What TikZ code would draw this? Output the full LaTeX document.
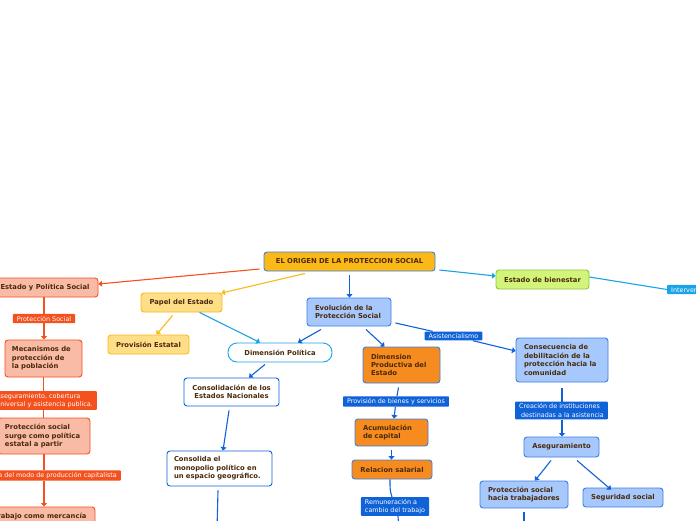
\documentclass[tikz,border=0pt]{standalone}
\usepackage{fontspec}
\setmainfont{DejaVu Sans}
\usetikzlibrary{arrows.meta,calc}
\definecolor{txt}{HTML}{4A2A0A}
\definecolor{red1}{HTML}{F4511E}
\definecolor{salmon}{HTML}{F9BBA6}
\definecolor{yel}{HTML}{FBB917}
\definecolor{yelfill}{HTML}{FFDE88}
\definecolor{rootfill}{HTML}{FBB917}
\definecolor{bord}{HTML}{3D7FE0}
\definecolor{lblue}{HTML}{A7C8FD}
\definecolor{dblue}{HTML}{0F62D8}
\definecolor{cyan1}{HTML}{1AA3E8}
\definecolor{orng}{HTML}{F68B1F}
\definecolor{grfill}{HTML}{D2F47A}
\definecolor{grbord}{HTML}{8DC63F}
\begin{document}
\begin{tikzpicture}[x=1pt,y=-1pt,
 box/.style={rounded corners=3pt, line width=0.9pt, font=\fontsize{6.8}{8.4}\selectfont\bfseries, text=txt, inner sep=0pt, align=center},
 lbox/.style={box, align=left, inner xsep=7pt},
 lab/.style={fill=#1, text=white, font=\fontsize{6.4}{8.4}\selectfont, inner xsep=4pt, inner ysep=2pt, rounded corners=0.8pt},
 con/.style={line width=1.1pt},
 arr/.style={con, -{Triangle[length=3.5pt,width=6pt]}}
]
\useasboundingbox (0,0) rectangle (696,520);
\fill[white] (0,0) rectangle (696,520);

% nodes
\node[box, draw=bord, fill=rootfill, minimum width=171pt, minimum height=19pt] (root) at (349.5,261.5) {EL ORIGEN DE LA PROTECCION SOCIAL};

\node[box, draw=red1, fill=salmon, minimum width=106pt, minimum height=19pt] (estpol) at (45,287.5) {Estado y Política Social};
\node[lbox, draw=red1, fill=salmon, text width=63pt, minimum height=37pt] (mec) at (43.5,358.5) {Mecanismos de\\protección de\\la población};
\node[lbox, draw=red1, fill=salmon, text width=78pt, minimum height=36pt] (surge) at (44,436) {Protección social\\surge como política\\estatal a partir};
\node[box, draw=red1, fill=salmon, minimum width=110pt, minimum height=19pt] (trab) at (40,516.5) {Trabajo como mercancía};

\node[lab=red1] (lprot) at (44,318.5) {Protección Social};
\node[lab=red1, align=left, anchor=east] (laseg) at (97,400.5) {Aseguramiento, cobertura\\universal y asistencia publica.};
\node[lab=red1, anchor=east] (lcap) at (121,475.5) {a del modo de producción capitalista};

\node[box, draw=yel, fill=yelfill, minimum width=81pt, minimum height=19pt] (papel) at (181.5,302.5) {Papel del Estado};
\node[box, draw=yel, fill=yelfill, minimum width=81pt, minimum height=19pt] (provest) at (148.5,344.5) {Provisión Estatal};

\node[box, draw=cyan1, fill=white, rounded corners=9pt, minimum width=104pt, minimum height=19pt] (dimpol) at (280,352.5) {Dimensión Política};

\node[lbox, draw=bord, fill=lblue, text width=68pt, inner xsep=8pt, minimum height=28pt] (evol) at (349,312) {Evolución de la\\Protección Social};
\node[lbox, draw=bord, fill=orng, text width=61pt, inner xsep=8pt, minimum height=36pt] (dimprod) at (401.5,365) {Dimension\\Productiva del\\Estado};
\node[lbox, draw=bord, fill=orng, text width=57pt, inner xsep=8pt, minimum height=27pt] (acum) at (391.5,432.5) {Acumulación\\de capital};
\node[box, draw=bord, fill=orng, minimum width=80pt, minimum height=19pt] (relsal) at (392,469.5) {Relacion salarial};

\node[box, draw=dblue, fill=white, minimum width=95pt, minimum height=28pt] (consol) at (231.5,392) {Consolidación de los\\Estados Nacionales};
\node[lbox, draw=dblue, fill=white, text width=91pt, minimum height=35pt] (monop) at (219.5,468.5) {Consolida el\\monopolio político en\\un espacio geográfico.};

\node[box, draw=grbord, fill=grfill, minimum width=93pt, minimum height=19pt] (bien) at (542.5,279.5) {Estado de bienestar};

\node[lbox, draw=bord, fill=lblue, text width=76pt, inner xsep=8pt, minimum height=44pt] (consec) at (562,360) {Consecuencia de\\debilitación de la\\protección hacia la\\comunidad};
\node[box, draw=bord, fill=lblue, minimum width=75pt, minimum height=20pt] (aseg) at (561.5,447) {Aseguramiento};
\node[lbox, draw=bord, fill=lblue, text width=72pt, inner xsep=8pt, minimum height=27pt] (ptrab) at (524,494.5) {Protección social\\hacia trabajadores};
\node[box, draw=bord, fill=lblue, minimum width=80pt, minimum height=19pt] (segsoc) at (623,497.5) {Seguridad social};

\node[lab=dblue] (lasis) at (453.5,336) {Asistencialismo};
\node[lab=dblue] (lprov) at (396,401.5) {Provisión de bienes y servicios};
\node[lab=dblue, align=left] (lrem) at (395,506.5) {Remuneración a\\cambio del trabajo};
\node[lab=dblue, align=left] (lcrea) at (561.5,410.5) {Creación de instituciones\\\ destinadas a la asistencia};
\node[lab=cyan1, anchor=west] (linterv) at (667,289.5) {Intervención};

\coordinate (remend) at (399,530);
\coordinate (monend) at (217,530);
\coordinate (ptend) at (524,530);

% connectors
\draw[arr, red1] ([xshift=-4pt,yshift=-7.5pt]root.west) -- ([yshift=3.5pt]estpol.east);
\draw[con, red1] (estpol.south -| lprot.north) -- (lprot.north);
\draw[arr, red1] (lprot.south) -- (lprot.south |- mec.north);
\draw[con, red1] (mec.south) -- (mec.south |- laseg.north);
\draw[con, red1] (mec.south |- laseg.south) -- (mec.south |- surge.north);
\draw[con, red1] (surge.south) -- (surge.south |- lcap.north);
\draw[arr, red1] (surge.south |- lcap.south) -- (surge.south |- trab.north);

\draw[arr, yel] ([xshift=-44.5pt,yshift=-2pt]root.south) -- ([xshift=-1pt,yshift=-0.5pt]papel.north east);
\draw[arr, yel] ([xshift=-9pt,yshift=-3pt]papel.south) -- ([xshift=8pt]provest.north);
\draw[arr, cyan1] ([xshift=18pt]papel.south) -- ([xshift=-20pt]dimpol.north);

\draw[arr, dblue] ([yshift=-4pt]root.south) -- (root.south |- evol.north);
\draw[arr, dblue] ([xshift=-28pt,yshift=-3pt]evol.south) -- ([xshift=18pt]dimpol.north);
\draw[arr, dblue] ([xshift=17pt,yshift=-3pt]evol.south) -- ([xshift=-17pt]dimprod.north);
\draw[con, dblue] ([xshift=4pt,yshift=-11pt]evol.east) -- (lasis);
\draw[arr, dblue] (lasis) -- ([yshift=9pt]consec.west);

\draw[con, dblue] ([xshift=-3pt,yshift=-4pt]dimprod.south) -- (lprov);
\draw[arr, dblue] (lprov) -- ([xshift=2.5pt]acum.north);
\draw[arr, dblue] ([yshift=-4pt]acum.south) -- (acum.south |- relsal.north);
\draw[con, dblue] ([xshift=-2pt]relsal.south) .. controls +(0,10) and +(-2,-6) .. ([xshift=-3pt]lrem.north);
\draw[con, dblue] ([xshift=3pt]lrem.south) -- (remend);

\draw[arr, dblue] ([xshift=-15pt,yshift=-2pt]dimpol.south) -- ([xshift=17.5pt]consol.north);
\draw[arr, dblue] ([xshift=-2.5pt,yshift=-4pt]consol.south) -- ([xshift=3.5pt]monop.north);
\draw[con, dblue] ([xshift=-1.5pt,yshift=-4pt]monop.south) -- (monend);

\draw[arr, cyan1] ([xshift=4pt,yshift=-8.5pt]root.east) -- ([yshift=3.5pt]bien.west);
\draw[con, cyan1] ([yshift=2.5pt]bien.east) -- (linterv.west);

\draw[con, dblue] ([yshift=-6pt]consec.south) -- (consec.south |- lcrea.north);
\draw[arr, dblue] (consec.south |- lcrea.south) -- (consec.south |- aseg.north);
\draw[arr, dblue] ([xshift=-10.5pt,yshift=-3pt]aseg.south) -- ([xshift=11pt]ptrab.north);
\draw[arr, dblue] ([xshift=15.5pt,yshift=-3pt]aseg.south) -- ([xshift=-12pt,yshift=-2pt]segsoc.north);
\draw[con, dblue] ([yshift=-4pt]ptrab.south) -- (ptend);
\end{tikzpicture}
\end{document}
